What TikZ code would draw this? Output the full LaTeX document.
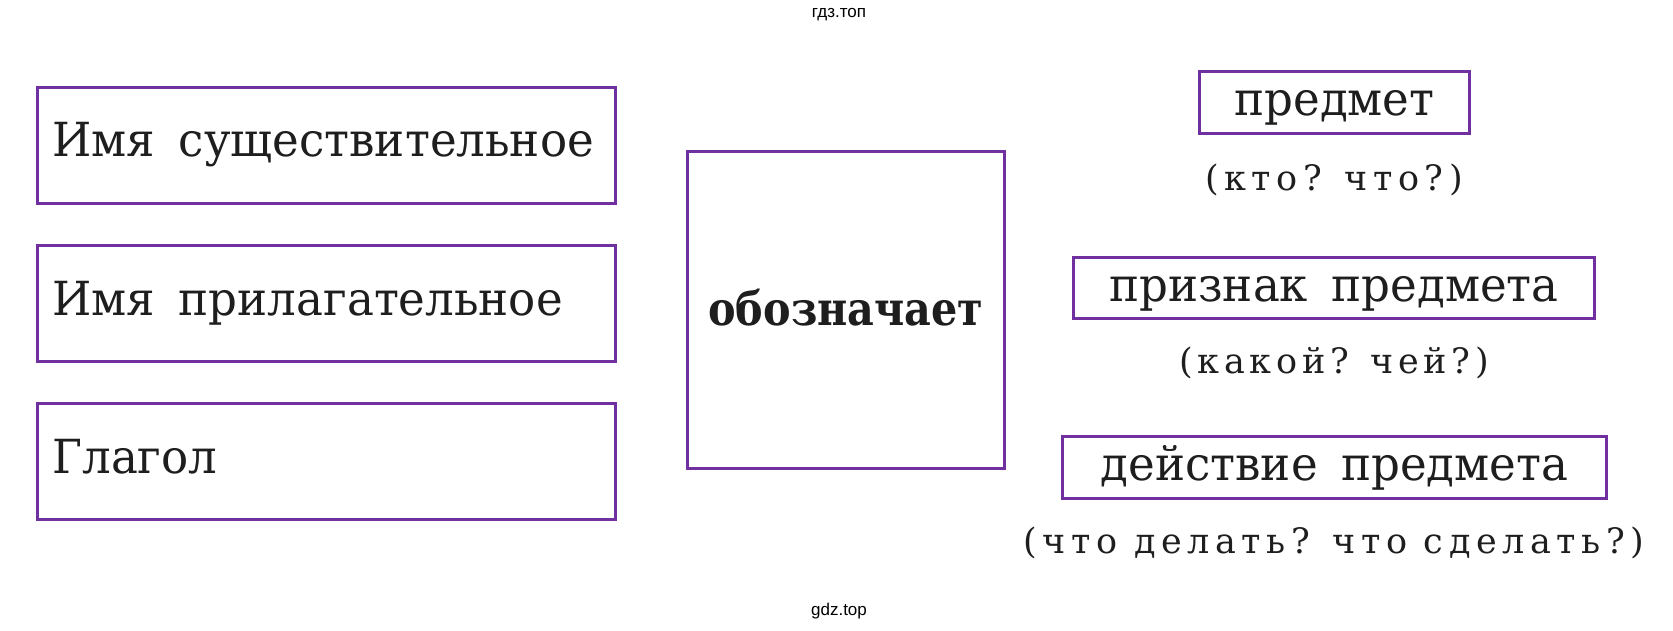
\documentclass[tikz,border=0pt]{standalone}
\usepackage{fontspec}
\setmainfont{DejaVu Serif}
\newfontfamily\boxfont[FakeStretch=0.96]{DejaVu Serif}
\newfontfamily\boldfont[FakeStretch=0.88]{DejaVu Serif}
\newfontfamily\qfont[LetterSpace=16]{DejaVu Serif}
\newfontfamily\qfonttight[LetterSpace=13.5]{DejaVu Serif}
\newfontfamily\wmfont{Liberation Sans}
\definecolor{boxpurple}{RGB}{112,48,160}
\definecolor{inkblack}{RGB}{30,30,30}
\newcommand{\wgap}{\hspace{0.5em}}
\tikzset{
  pbox/.style={draw=boxpurple, line width=3.3pt, rectangle, inner ysep=0pt, text=inkblack},
  leftbox/.style={pbox, minimum height=116pt, text width=548pt, inner xsep=15pt,
    align=left, text height=33pt, text depth=10pt, font=\boxfont\fontsize{47}{50}\selectfont},
  rightbox/.style={pbox, inner xsep=0pt, text height=34pt, text depth=8pt,
    font=\boxfont\fontsize{47}{50}\selectfont},
  midbox/.style={pbox, minimum width=317pt, minimum height=317pt, text height=36pt, text depth=6pt,
    font=\boldfont\bfseries\fontsize{47}{50}\selectfont},
  question/.style={anchor=base, inner sep=0pt, text=inkblack, font=\qfont\fontsize{35}{38}\selectfont},
  watermark/.style={inner sep=0pt, font=\wmfont\fontsize{17}{20}\selectfont}
}
\begin{document}
\begin{tikzpicture}[x=1pt,y=-1pt]
\useasboundingbox (0,0) rectangle (1673,631);
\node[watermark] (wmtop) at (839,15) {гдз.топ};
\node[watermark] (wmbot) at (839,611) {gdz.top};
\node[leftbox] (noun) at (326.5,145.5) {\mbox{Имя\wgap существительное}};
\node[leftbox] (adj) at (326.5,303.5) {\mbox{Имя\wgap прилагательное}};
\node[leftbox] (verb) at (326.5,461.5) {Глагол};
\node[midbox] (means) at (846,310) {обозначает};
\node[rightbox, minimum width=270pt, minimum height=62pt] (obj) at (1334.5,102.5) {предмет};
\node[question] (q1) at (1334,191) {(кто? что?)};
\node[rightbox, minimum width=521pt, minimum height=61pt] (attr) at (1334,288) {признак\wgap предмета};
\node[question, font=\qfonttight\fontsize{35}{38}\selectfont] (q2) at (1334,373) {(какой? чей?)};
\node[rightbox, minimum width=544pt, minimum height=62pt] (act) at (1334.5,467.5) {действие\wgap предмета};
\node[question] (q3) at (1334,553) {(что делать? что сделать?)};
\end{tikzpicture}
\end{document}
